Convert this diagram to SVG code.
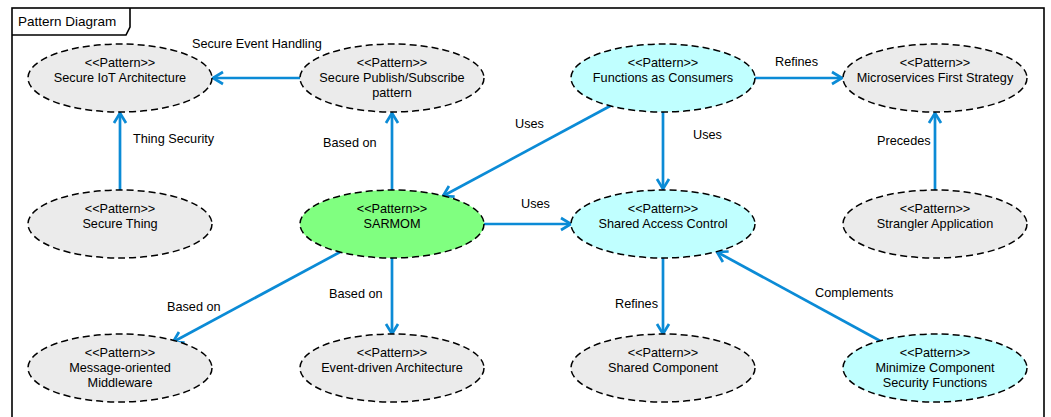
<svg xmlns="http://www.w3.org/2000/svg" width="1051" height="417" viewBox="0 0 1051 417">
<style>
  .frame{fill:none;stroke:#000;stroke-width:1.6}
  .node{stroke:#000;stroke-width:1.5;stroke-dasharray:7 4}
  .grey{fill:#ebebeb}
  .cyan{fill:#c0ffff}
  .green{fill:#80ff80}
  text{font-family:"Liberation Sans",Arial,sans-serif;font-size:12.7px;fill:#000}
  .c{text-anchor:middle}
  .edge{stroke:#0b8bd6;stroke-width:2.7;fill:none;marker-end:url(#arr)}
</style>
<defs>
  <marker id="arr" markerUnits="userSpaceOnUse" markerWidth="16" markerHeight="16" viewBox="0 0 16 16" refX="13" refY="8" orient="auto">
    <path d="M3,2 L13,8 L3,14" fill="none" stroke="#0b8bd6" stroke-width="2.7"/>
  </marker>
</defs>
<rect width="1051" height="417" fill="#fff"/>
<g id="frame">
  <rect class="frame" x="12" y="8" width="1032" height="420"/>
  <path class="frame" d="M12,35 H126 L130,27 V8"/>
  <text x="18" y="26" style="font-size:13.5px">Pattern Diagram</text>
</g>
<g id="connectors">
  <line class="edge" x1="300" y1="78" x2="213" y2="78"/>
  <line class="edge" x1="120" y1="190" x2="120" y2="113"/>
  <line class="edge" x1="392" y1="190" x2="392" y2="113"/>
  <line class="edge" x1="612" y1="105" x2="443" y2="196"/>
  <line class="edge" x1="484" y1="224" x2="571" y2="224"/>
  <line class="edge" x1="663" y1="112" x2="663" y2="189"/>
  <line class="edge" x1="755" y1="78" x2="842" y2="78"/>
  <line class="edge" x1="935" y1="190" x2="935" y2="113"/>
  <line class="edge" x1="342" y1="251" x2="173" y2="342"/>
  <line class="edge" x1="392" y1="258" x2="392" y2="334"/>
  <line class="edge" x1="663" y1="258" x2="663" y2="334"/>
  <line class="edge" x1="884" y1="343" x2="717" y2="252"/>
  <text x="192" y="48">Secure Event Handling</text>
  <text x="133" y="143">Thing Security</text>
  <text x="323" y="147">Based on</text>
  <text x="515" y="128">Uses</text>
  <text x="521" y="208">Uses</text>
  <text x="693" y="139">Uses</text>
  <text x="775" y="66">Refines</text>
  <text x="877" y="145">Precedes</text>
  <text x="167" y="311">Based on</text>
  <text x="329" y="298">Based on</text>
  <text x="615" y="308">Refines</text>
  <text x="815" y="297">Complements</text>
</g>
<g id="secure-iot">
  <ellipse class="node grey" cx="120" cy="78" rx="92" ry="34"/>
  <text class="c" x="120" y="67">&lt;&lt;Pattern&gt;&gt;</text>
  <text class="c" x="120" y="82">Secure IoT Architecture</text>
</g>
<g id="secure-pubsub">
  <ellipse class="node grey" cx="392" cy="78" rx="92" ry="34"/>
  <text class="c" x="392" y="67">&lt;&lt;Pattern&gt;&gt;</text>
  <text class="c" x="392" y="82">Secure Publish/Subscribe</text>
  <text class="c" x="392" y="97">pattern</text>
</g>
<g id="functions-consumers">
  <ellipse class="node cyan" cx="663" cy="78" rx="92" ry="34"/>
  <text class="c" x="663" y="67">&lt;&lt;Pattern&gt;&gt;</text>
  <text class="c" x="663" y="82">Functions as Consumers</text>
</g>
<g id="microservices-first">
  <ellipse class="node grey" cx="935" cy="78" rx="92" ry="34"/>
  <text class="c" x="935" y="67">&lt;&lt;Pattern&gt;&gt;</text>
  <text class="c" x="935" y="82">Microservices First Strategy</text>
</g>
<g id="secure-thing">
  <ellipse class="node grey" cx="120" cy="224" rx="92" ry="34"/>
  <text class="c" x="120" y="213">&lt;&lt;Pattern&gt;&gt;</text>
  <text class="c" x="120" y="228">Secure Thing</text>
</g>
<g id="sarmom">
  <ellipse class="node green" cx="392" cy="224" rx="92" ry="34"/>
  <text class="c" x="392" y="213">&lt;&lt;Pattern&gt;&gt;</text>
  <text class="c" x="392" y="228">SARMOM</text>
</g>
<g id="shared-access-control">
  <ellipse class="node cyan" cx="663" cy="224" rx="92" ry="34"/>
  <text class="c" x="663" y="213">&lt;&lt;Pattern&gt;&gt;</text>
  <text class="c" x="663" y="228">Shared Access Control</text>
</g>
<g id="strangler-application">
  <ellipse class="node grey" cx="935" cy="224" rx="92" ry="34"/>
  <text class="c" x="935" y="213">&lt;&lt;Pattern&gt;&gt;</text>
  <text class="c" x="935" y="228">Strangler Application</text>
</g>
<g id="mom">
  <ellipse class="node grey" cx="120" cy="368" rx="92" ry="34"/>
  <text class="c" x="120" y="357">&lt;&lt;Pattern&gt;&gt;</text>
  <text class="c" x="120" y="372">Message-oriented</text>
  <text class="c" x="120" y="387">Middleware</text>
</g>
<g id="event-driven">
  <ellipse class="node grey" cx="392" cy="368" rx="92" ry="34"/>
  <text class="c" x="392" y="357">&lt;&lt;Pattern&gt;&gt;</text>
  <text class="c" x="392" y="372">Event-driven Architecture</text>
</g>
<g id="shared-component">
  <ellipse class="node grey" cx="663" cy="368" rx="92" ry="34"/>
  <text class="c" x="663" y="357">&lt;&lt;Pattern&gt;&gt;</text>
  <text class="c" x="663" y="372">Shared Component</text>
</g>
<g id="minimize-component">
  <ellipse class="node cyan" cx="935" cy="368" rx="92" ry="34"/>
  <text class="c" x="935" y="357">&lt;&lt;Pattern&gt;&gt;</text>
  <text class="c" x="935" y="372">Minimize Component</text>
  <text class="c" x="935" y="387">Security Functions</text>
</g>
</svg>
